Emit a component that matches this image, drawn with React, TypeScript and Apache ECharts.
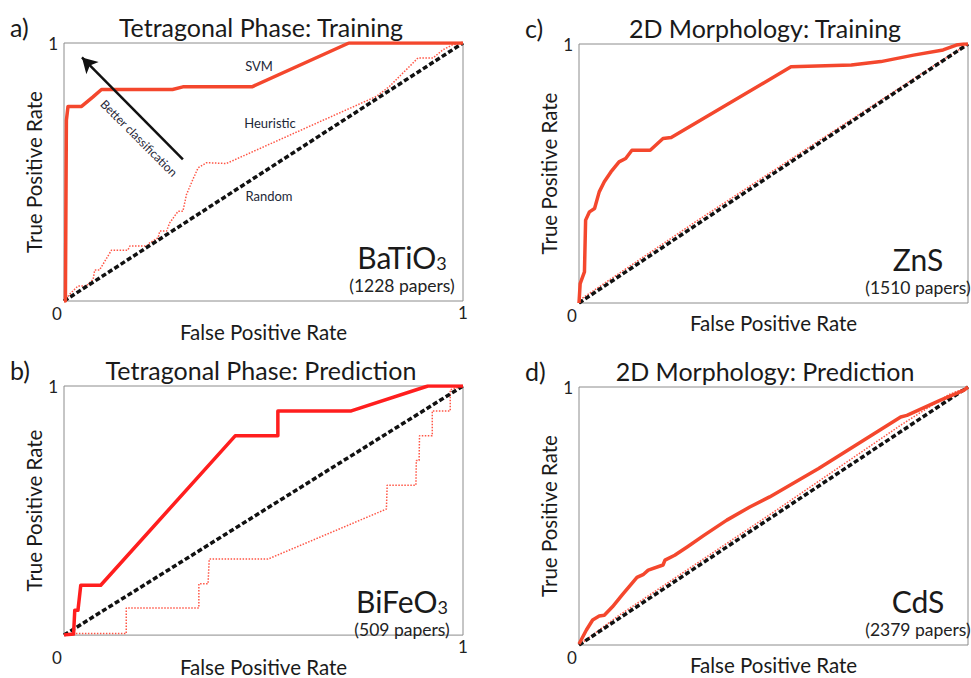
import React, { useEffect, useRef } from "react";
import * as echarts from "echarts";

// ---------- data ----------
const panelLetters = ["a)", "b)", "c)", "d)"];
const panelTitles = [
  "Tetragonal Phase: Training",
  "Tetragonal Phase: Prediction",
  "2D Morphology: Training",
  "2D Morphology: Prediction",
];
const materialNames = ["BaTiO", "BiFeO", "ZnS", "CdS"];
const materialSubscripts = ["3", "3", "", ""];
const paperCounts = ["(1228 papers)", "(509 papers)", "(1510 papers)", "(2379 papers)"];
const axisTicks = [0, 1];

const randomRoc = [
  [0, 0],
  [1, 1],
];

// a) BaTiO3 training
const svmA = [
  [0, 0], [0.0035, 0.0], [0.006, 0.7], [0.01, 0.754], [0.044, 0.754], [0.072, 0.79],
  [0.094, 0.82], [0.272, 0.82], [0.298, 0.83], [0.471, 0.83], [0.714, 1.0], [1, 1],
];
const heurA = [
  [0, 0], [0.0035, 0.004], [0.014, 0.026], [0.035, 0.058], [0.056, 0.058], [0.073, 0.084],
  [0.077, 0.12], [0.089, 0.12], [0.119, 0.197], [0.16, 0.197], [0.165, 0.213], [0.207, 0.213],
  [0.215, 0.226], [0.236, 0.245], [0.24, 0.271], [0.257, 0.271], [0.265, 0.303], [0.286, 0.348],
  [0.298, 0.348], [0.307, 0.413], [0.323, 0.471], [0.336, 0.516], [0.357, 0.536], [0.407, 0.533],
  [0.783, 0.793], [0.816, 0.832], [0.841, 0.871], [0.866, 0.909], [0.887, 0.942], [0.925, 0.942],
  [0.95, 0.974], [0.974, 0.993], [1, 1],
];

// b) BiFeO3 prediction
const svmB = [
  [0, 0], [0.024, 0.004], [0.027, 0.1], [0.035, 0.1], [0.042, 0.2], [0.092, 0.2],
  [0.429, 0.8], [0.536, 0.8], [0.536, 0.9], [0.72, 0.9], [0.912, 1.0], [1, 1],
];
const heurB = [
  [0, 0], [0.029, 0.006], [0.156, 0.006], [0.156, 0.109], [0.338, 0.109], [0.338, 0.206],
  [0.361, 0.206], [0.364, 0.305], [0.511, 0.305], [0.808, 0.506], [0.81, 0.602], [0.882, 0.602],
  [0.883, 0.701], [0.89, 0.701], [0.891, 0.8], [0.923, 0.8], [0.923, 0.9], [0.968, 0.9],
  [0.968, 0.985], [1, 1],
];

// c) ZnS training
const svmC = [
  [0, 0], [0.003, 0.075], [0.014, 0.12], [0.017, 0.32], [0.027, 0.352], [0.04, 0.365],
  [0.052, 0.429], [0.065, 0.468], [0.082, 0.506], [0.103, 0.545], [0.12, 0.558], [0.136, 0.59],
  [0.183, 0.59], [0.216, 0.635], [0.237, 0.639], [0.545, 0.912], [0.7, 0.919], [0.776, 0.932],
  [0.86, 0.957], [0.936, 0.977], [0.97, 0.996], [0.989, 1.0], [1, 1],
];
const heurC = [
  [0, 0], [0.01, 0.02], [0.3, 0.314], [0.6, 0.61], [0.9, 0.905], [1, 1],
];

// d) CdS prediction
const svmD = [
  [0, 0.004], [0.019, 0.058], [0.035, 0.097], [0.052, 0.112], [0.065, 0.115], [0.086, 0.148],
  [0.111, 0.194], [0.149, 0.262], [0.166, 0.274], [0.178, 0.29], [0.216, 0.31], [0.221, 0.329],
  [0.246, 0.348], [0.279, 0.381], [0.322, 0.426], [0.38, 0.484], [0.439, 0.535], [0.49, 0.574],
  [0.616, 0.684], [0.827, 0.884], [0.843, 0.89], [0.928, 0.948], [0.989, 0.987], [1, 1],
];
const heurD = [
  [0, 0], [0.1, 0.112], [0.5, 0.515], [0.83, 0.855], [0.95, 0.97], [1, 1],
];

const svmSeries = [svmA, svmB, svmC, svmD];
const heurSeries = [heurA, heurB, heurC, heurD];

// arrow "Better classification" (data coords in panel a): tail -> head
const arrowTail = [0.298, 0.549];
const arrowHead = [0.045, 0.944];

// ---------- layout / style ----------
const FONT = "Lato, 'Open Sans', sans-serif";
const grids = [
  { left: 64, top: 43, width: 399, height: 258 },
  { left: 64, top: 386, width: 399, height: 259 },
  { left: 579, top: 44, width: 396, height: 259 },
  { left: 579, top: 387, width: 396, height: 258 },
];
const svmColors = ["#f4472d", "#ff1e1e", "#f4472d", "#f4472d"];
const heurColor = "#ff5646";

export default function App() {
  const ref = useRef<HTMLDivElement>(null);
  useEffect(() => {
    document.body.style.margin = "0";
    const chart = echarts.init(ref.current!, undefined, { renderer: "svg" });

    const xAxes = grids.map((_, i) => ({
      type: "value",
      gridIndex: i,
      min: 0,
      max: 1,
      interval: 1,
      axisLine: { show: false },
      axisTick: { show: false },
      splitLine: { show: false },
      axisLabel: {
        formatter: (v: number) => (v === axisTicks[1] && i < 2 ? String(axisTicks[1]) : ""),
        fontSize: 17,
        color: "#222",
        margin: 3,
        fontFamily: FONT,
      },
      name: "False Positive Rate",
      nameLocation: "middle",
      nameGap: 9,
      nameTextStyle: { fontSize: 20.5, color: "#1a1a1a", fontFamily: FONT, verticalAlign: "top" },
    }));
    const yAxes = grids.map((_, i) => ({
      type: "value",
      gridIndex: i,
      min: 0,
      max: 1,
      interval: 1,
      axisLine: { show: false },
      axisTick: { show: false },
      splitLine: { show: false },
      axisLabel: {
        formatter: (v: number) => (v === axisTicks[1] ? String(axisTicks[1]) : ""),
        fontSize: 17,
        color: "#222",
        margin: 6,
        fontFamily: FONT,
      },
      name: "True Positive Rate",
      nameLocation: "middle",
      nameGap: 16,
      nameTextStyle: { fontSize: 20.5, color: "#1a1a1a", fontFamily: FONT },
    }));

    const series: any[] = [];
    grids.forEach((_, i) => {
      series.push({
        type: "line",
        xAxisIndex: i,
        yAxisIndex: i,
        data: heurSeries[i],
        showSymbol: false,
        symbol: "none",
        lineStyle: { color: heurColor, width: 1.5, type: [1.5, 1.5] },
        z: 2,
        silent: true,
      });
      series.push({
        type: "line",
        xAxisIndex: i,
        yAxisIndex: i,
        data: randomRoc,
        showSymbol: false,
        symbol: "none",
        lineStyle: { color: "#111", width: 3.5, type: [5, 2.5] },
        z: 3,
        silent: true,
        markLine:
          i === 0
            ? {
                silent: true,
                symbol: ["none", "arrow"],
                symbolSize: [13, 15],
                label: { show: false },
                lineStyle: { color: "#111", width: 2.5, type: "solid" },
                data: [[{ coord: arrowTail }, { coord: arrowHead }]],
              }
            : undefined,
      });
      series.push({
        type: "line",
        xAxisIndex: i,
        yAxisIndex: i,
        data: svmSeries[i],
        showSymbol: false,
        symbol: "none",
        lineStyle: { color: svmColors[i], width: 3.5, join: "round" },
        z: 4,
        silent: true,
      });
    });

    const graphics: any[] = [];
    grids.forEach((g, i) => {
      const cx = g.left + (i < 2 ? 197 : 186);
      const ty = g.top - 16;
      graphics.push({
        type: "text",
        x: g.left - 54,
        y: ty,
        style: { text: panelLetters[i], font: `25px ${FONT}`, fill: "#1a1a1a", textVerticalAlign: "middle" },
      });
      graphics.push({
        type: "text",
        x: cx,
        y: ty,
        style: {
          text: panelTitles[i],
          font: `25px ${FONT}`,
          fill: "#1a1a1a",
          textAlign: "center",
          textVerticalAlign: "middle",
        },
      });
      graphics.push({
        type: "text",
        x: g.left - 7,
        y: g.top + g.height + 12,
        style: { text: "0", font: `17px ${FONT}`, fill: "#222", textAlign: "center", textVerticalAlign: "middle" },
      });
      const mx = i < 2 ? g.left + 338 : g.left + 339;
      graphics.push({
        type: "text",
        x: mx,
        y: g.top + g.height - 42,
        style: {
          text: materialSubscripts[i] ? `{b|${materialNames[i]}}{s|${materialSubscripts[i]}}` : `{b|${materialNames[i]}}`,
          rich: {
            b: { fontSize: 30, fontFamily: FONT, fill: "#1a1a1a", verticalAlign: "bottom", lineHeight: 26 },
            s: { fontSize: 18, fontFamily: FONT, fill: "#1a1a1a", verticalAlign: "bottom", lineHeight: 26 },
          },
          textAlign: "center",
          textVerticalAlign: "middle",
        },
      });
      graphics.push({
        type: "text",
        x: mx,
        y: g.top + g.height - 16,
        style: {
          text: paperCounts[i],
          font: `17.5px ${FONT}`,
          fill: "#222",
          textAlign: "center",
          textVerticalAlign: "middle",
        },
      });
    });

    const annot = [
      { t: "SVM", x: 259, y: 66 },
      { t: "Heuristic", x: 270, y: 123 },
      { t: "Random", x: 269, y: 196 },
    ];
    annot.forEach((a) =>
      graphics.push({
        type: "text",
        x: a.x,
        y: a.y,
        style: { text: a.t, font: `13px ${FONT}`, fill: "#1d2838", textAlign: "center", textVerticalAlign: "middle" },
      })
    );
    graphics.push({
      type: "text",
      x: 139,
      y: 138,
      rotation: -Math.PI / 4,
      style: {
        text: "Better classification",
        font: `12px ${FONT}`,
        fill: "#2a2a3a",
        textAlign: "center",
        textVerticalAlign: "middle",
      },
    });

    chart.setOption({
      animation: false,
      backgroundColor: "#fff",
      grid: grids.map((g) => ({
        ...g,
        show: true,
        borderColor: "#8c8c8c",
        borderWidth: 1,
        backgroundColor: "transparent",
        containLabel: false,
      })),
      xAxis: xAxes,
      yAxis: yAxes,
      series,
      graphic: graphics,
    });
    return () => chart.dispose();
  }, []);
  return <div ref={ref} style={{ width: 971, height: 678 }} />;
}
